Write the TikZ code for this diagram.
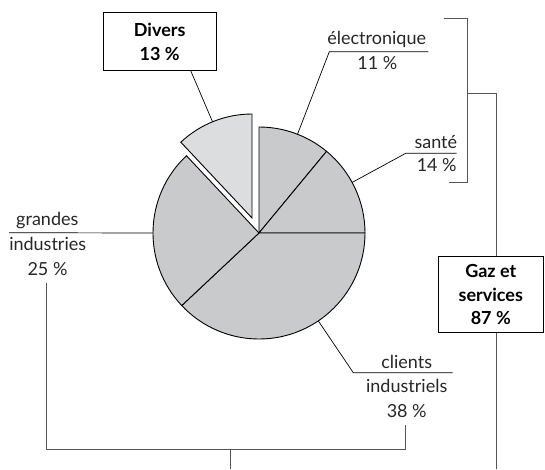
\documentclass[tikz,border=0pt]{standalone}
\usepackage{fontspec}
\setmainfont{Lato}
\definecolor{piefill}{HTML}{C9CACB}
\definecolor{divfill}{HTML}{DCDDDE}
\definecolor{txt}{HTML}{262626}
\definecolor{brkcol}{HTML}{555555}
\begin{document}
\begin{tikzpicture}[x=1pt,y=-1pt,
  font=\fontsize{18}{24}\selectfont,
  lbl/.style={text=txt, inner sep=0pt, anchor=base},
  boxnode/.style={draw=black, line width=0.9pt, align=center, text=black,
    font=\fontsize{18}{23.5}\selectfont\bfseries, inner sep=0pt},
  lead/.style={draw=black, line width=0.7pt},
  brk/.style={draw=brkcol, line width=1pt},
  slice/.style={draw=black, line width=0.9pt, fill=piefill, line join=miter},
  dslice/.style={draw=black, line width=0.9pt, fill=divfill, line join=miter}]
\useasboundingbox (0,0) rectangle (545,469);

% pie
\begin{scope}[shift={(259,233)}, y=1pt]
  \coordinate (O) at (0,0);
  \filldraw[slice] (O) -- (90:106) arc[start angle=90, end angle=50.4, radius=106] -- cycle;
  \filldraw[slice] (O) -- (50.4:106) arc[start angle=50.4, end angle=0, radius=106] -- cycle;
  \filldraw[slice] (O) -- (0:106) arc[start angle=0, end angle=-136.8, radius=106] -- cycle;
  \filldraw[slice] (O) -- (-136.8:106) arc[start angle=-136.8, end angle=-226.8, radius=106] -- cycle;
  \coordinate (pElec) at (68.7:106);
  \coordinate (pSante) at (28.5:106);
  \coordinate (pClients) at (-56:106);
  \coordinate (pGrandes) at (180:106);
  \begin{scope}[shift={(-7,15)}]
    \filldraw[dslice] (0,0) -- (133.2:104) arc[start angle=133.2, end angle=90, radius=104] -- cycle;
    \coordinate (pDivers) at (112.3:104);
  \end{scope}
\end{scope}

% boxes
\node[boxnode, minimum width=112.7pt, minimum height=58pt] (divers) at (159.7,41.7) {Divers\\13~\%};
\node[boxnode, minimum width=105pt, minimum height=76pt] (gaz) at (490.8,294.7) {Gaz et\\services\\87~\%};

% labels
\node[lbl] (elec1) at (376.7,44.3) {électronique};
\node[lbl] (elec2) at (377.3,69) {11~\%};
\node[lbl] (sante1) at (435.8,148.3) {santé};
\node[lbl] (sante2) at (436.7,171.7) {14~\%};
\node[lbl] (gr1) at (47.3,225) {grandes};
\node[lbl] (gr2) at (47.7,250) {industries};
\node[lbl] (gr3) at (47.5,275) {25~\%};
\node[lbl] (cl1) at (406.7,368.3) {clients};
\node[lbl] (cl2) at (406.7,392.7) {industriels};
\node[lbl] (cl3) at (406.7,417.3) {38~\%};

% leader coordinates
\coordinate (elecL) at (329.3,51.7);
\coordinate (elecR) at (428.3,51.7);
\coordinate (santeL) at (405.7,153.3);
\coordinate (santeR) at (456.7,153.3);
\coordinate (grL) at (9,232.7);
\coordinate (clL) at (353.3,372.7);
\coordinate (clR) at (452.7,372.7);
\coordinate (dvA) at (190.7,70.7);

\draw[lead] (pDivers) -- (dvA);
\draw[lead] (pElec) -- (elecL) -- (elecR);
\draw[lead] (pSante) -- (santeL) -- (santeR);
\draw[lead] (pGrandes) -- (grL);
\draw[lead] (pClients) -- (clL) -- (clR);

% right bracket
\coordinate (rbTop) at (444,18.3);
\coordinate (rbTopC) at (467.7,18.3);
\coordinate (rbBotC) at (467.7,182);
\coordinate (rbBot) at (449.3,182);
\coordinate (rbMid) at (467.7,93.3);
\coordinate (gzIn) at (496.5,93.3);
\coordinate (gzOut) at (496.5,469);
\draw[brk] (rbTop) -- (rbTopC) -- (rbBotC) -- (rbBot);
\draw[brk] (rbMid) -- (gzIn) -- (gzIn |- gaz.north);
\draw[brk] (gzIn |- gaz.south) -- (gzOut);

% bottom bracket
\coordinate (lbTop) at (46.5,282.7);
\coordinate (lbBotL) at (46.5,449.3);
\coordinate (lbBotR) at (405,449.3);
\coordinate (lbTopR) at (405,425);
\coordinate (lbMid) at (230,449.3);
\coordinate (lbOut) at (230,469);
\draw[brk] (lbTop) -- (lbBotL) -- (lbBotR) -- (lbTopR);
\draw[brk] (lbMid) -- (lbOut);
\end{tikzpicture}
\end{document}
